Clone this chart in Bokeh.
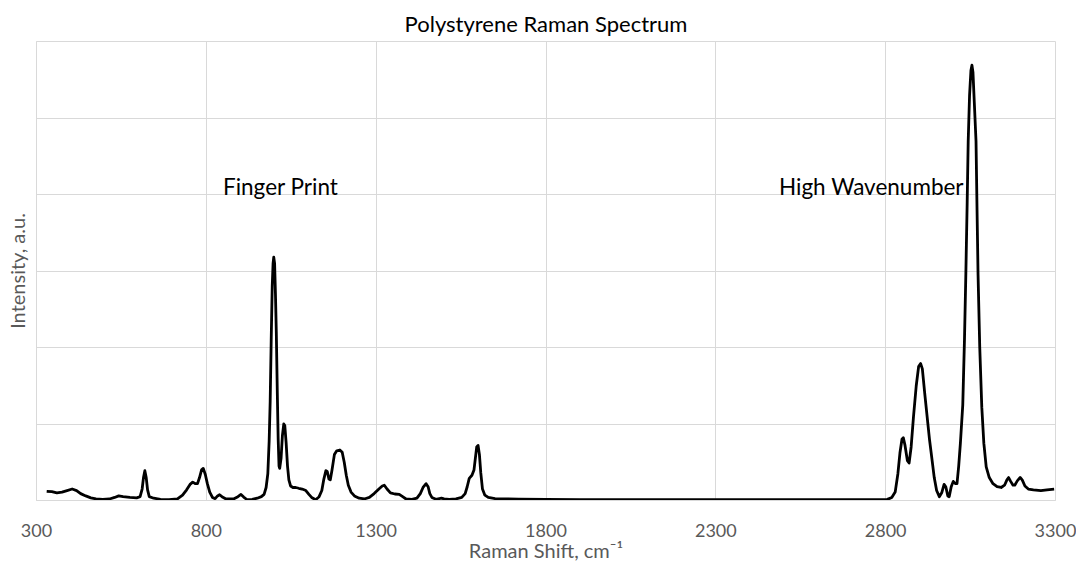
from bokeh.plotting import figure
from bokeh.models import Range1d, FixedTicker, Label
from bokeh.embed import file_html
from bokeh.resources import INLINE

title_text = "Polystyrene Raman Spectrum"
x_label = "Raman Shift, cm\u207b\u00b9"
y_label = "Intensity, a.u."
region_labels = ["Finger Print", "High Wavenumber"]
region_label_x = [849, 2486]
region_label_y = [4.1, 4.1]
x_ticks = [300, 800, 1300, 1800, 2300, 2800, 3300]
y_ticks = [0, 1, 2, 3, 4, 5, 6]

shift = [
    330, 345, 360, 375, 390, 405, 418, 430, 445, 460, 475, 495, 515, 530, 542, 555, 575, 595,
    605, 611, 615, 619, 623, 627, 632, 645, 665, 690, 715, 730, 742, 752, 760, 768, 774, 780,
    786, 791, 797, 803, 810, 818, 826, 833, 839, 846, 858, 880, 893, 902, 910, 920, 935, 950,
    962, 970, 976, 981, 985, 988, 991, 994, 996.5, 998.5, 1001, 1003.5, 1006, 1009, 1011.5,
    1014, 1016, 1020, 1024, 1028, 1031, 1035, 1039, 1043, 1048, 1055, 1063, 1072, 1082, 1093,
    1102, 1110, 1122, 1132, 1140, 1146, 1152, 1156, 1161, 1165, 1170, 1177, 1184, 1193, 1200,
    1206, 1212, 1218, 1226, 1236, 1250, 1265, 1280, 1294, 1308, 1318, 1324, 1332, 1342, 1355,
    1368, 1378, 1388, 1405, 1420, 1430, 1438, 1447, 1453, 1458, 1464, 1476, 1486, 1492, 1500,
    1515, 1535, 1552, 1562, 1568, 1574, 1582, 1588, 1592, 1596, 1600, 1604, 1608, 1613, 1620,
    1630, 1650, 1680, 1720, 1800, 1900, 2000, 2200, 2400, 2600, 2780, 2805, 2818, 2828, 2836,
    2842, 2848, 2852, 2857, 2864, 2869, 2875, 2882, 2890, 2897, 2903, 2908, 2915, 2922, 2929,
    2936, 2943, 2950, 2958, 2965, 2972, 2977, 2983, 2987, 2993, 2999, 3005, 3010, 3015, 3020,
    3027, 3032, 3036, 3040, 3043, 3047, 3051, 3054, 3057, 3061, 3066, 3069, 3072, 3077, 3083,
    3089, 3096, 3105, 3116, 3128, 3140, 3150, 3157, 3162, 3168, 3175, 3180, 3188, 3196, 3202,
    3210, 3220, 3235, 3257, 3275, 3296,
]
intensity = [
    0.12, 0.115, 0.10, 0.11, 0.13, 0.15, 0.13, 0.09, 0.06, 0.035, 0.02, 0.015, 0.02, 0.04, 0.06,
    0.05, 0.04, 0.035, 0.05, 0.15, 0.30, 0.39, 0.30, 0.14, 0.05, 0.03, 0.015, 0.01, 0.02, 0.07,
    0.14, 0.21, 0.24, 0.22, 0.22, 0.30, 0.40, 0.42, 0.34, 0.22, 0.11, 0.04, 0.025, 0.06, 0.075,
    0.05, 0.02, 0.02, 0.05, 0.08, 0.045, 0.01, 0.015, 0.03, 0.05, 0.08, 0.17, 0.35, 0.78, 1.3,
    2.1, 2.8, 3.1, 3.18, 3.1, 2.7, 2.2, 1.4, 0.8, 0.45, 0.42, 0.55, 0.85, 1.0, 0.98, 0.75, 0.45,
    0.27, 0.19, 0.17, 0.17, 0.16, 0.15, 0.13, 0.08, 0.04, 0.01, 0.05, 0.13, 0.28, 0.39, 0.38,
    0.28, 0.27, 0.40, 0.60, 0.65, 0.66, 0.63, 0.50, 0.33, 0.20, 0.11, 0.06, 0.03, 0.02, 0.04,
    0.09, 0.15, 0.19, 0.20, 0.15, 0.10, 0.085, 0.08, 0.05, 0.02, 0.015, 0.03, 0.09, 0.17, 0.22,
    0.18, 0.09, 0.04, 0.015, 0.025, 0.03, 0.02, 0.015, 0.02, 0.04, 0.09, 0.18, 0.29, 0.33, 0.40,
    0.55, 0.70, 0.72, 0.60, 0.36, 0.15, 0.07, 0.04, 0.025, 0.02, 0.018, 0.015, 0.012, 0.01, 0.01,
    0.01, 0.01, 0.01, 0.015, 0.04, 0.11, 0.35, 0.62, 0.80, 0.82, 0.72, 0.52, 0.49, 0.70, 1.10,
    1.50, 1.75, 1.79, 1.72, 1.40, 1.10, 0.80, 0.55, 0.30, 0.13, 0.05, 0.10, 0.21, 0.18, 0.06,
    0.05, 0.18, 0.25, 0.22, 0.22, 0.45, 0.75, 1.25, 2.1, 2.95, 3.9, 4.7, 5.3, 5.62, 5.69, 5.6,
    5.2, 4.7, 3.8, 2.95, 2.0, 1.22, 0.75, 0.44, 0.30, 0.22, 0.18, 0.17, 0.20, 0.27, 0.30, 0.25,
    0.20, 0.20, 0.26, 0.30, 0.27, 0.19, 0.15, 0.14, 0.13, 0.14, 0.15,
]

FONT = "Lato"
GRID = "#d9d9d9"
TXT = "#595959"

p = figure(width=1076, height=565, x_range=Range1d(300, 3300), y_range=Range1d(0, 6),
           output_backend="svg", toolbar_location=None,
           min_border_left=36, min_border_right=21, min_border_top=41, min_border_bottom=65)

p.title.text = title_text
p.title.align = "center"
p.title.text_font = FONT
p.title.text_font_size = "22px"
p.title.text_font_style = "normal"
p.title.text_color = "#000000"
p.title.offset = 0
p.title.standoff = 10

p.outline_line_color = GRID
p.outline_line_width = 1

p.xaxis.ticker = FixedTicker(ticks=x_ticks)
p.yaxis.ticker = FixedTicker(ticks=[])
p.xgrid.ticker = FixedTicker(ticks=x_ticks)
p.ygrid.ticker = FixedTicker(ticks=y_ticks)
for g in (p.xgrid, p.ygrid):
    g.grid_line_color = GRID
    g.grid_line_width = 1

for ax in (p.xaxis, p.yaxis):
    ax.axis_line_color = GRID
    ax.major_tick_line_color = None
    ax.minor_tick_line_color = None
    ax.major_label_text_font = FONT
    ax.major_label_text_color = TXT
    ax.axis_label_text_font = FONT
    ax.axis_label_text_font_style = "normal"
    ax.axis_label_text_color = TXT
    ax.axis_label_text_font_size = "20px"

p.xaxis.axis_label = x_label
p.xaxis.major_label_text_font_size = "18px"
p.xaxis.major_label_standoff = 17
p.xaxis.axis_label_standoff = -2

p.yaxis.axis_label = y_label
p.yaxis.major_label_standoff = 0
p.yaxis.axis_label_standoff = 8

p.line(shift, intensity, line_color="black", line_width=2.8, line_join="round")

for t, lx, ly in zip(region_labels, region_label_x, region_label_y):
    p.add_layout(Label(x=lx, y=ly, text=t, text_font=FONT, text_font_size="22.5px",
                       text_color="#000000", text_baseline="middle", text_align="left"))

open("out.html", "w").write(file_html(p, INLINE))
